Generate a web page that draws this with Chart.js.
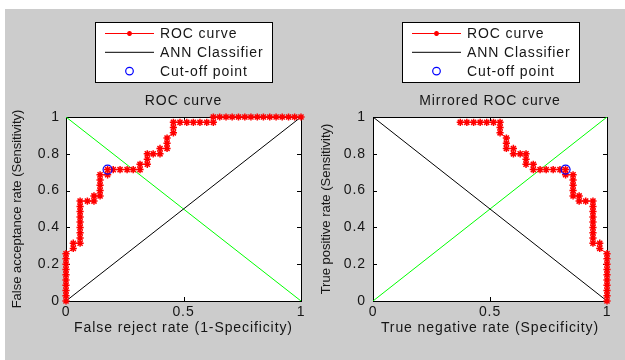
<!DOCTYPE html>
<html>
<head>
<meta charset="utf-8">
<script src="https://cdn.jsdelivr.net/npm/chart.js@4.4.1/dist/chart.umd.min.js"></script>
<style>
	html, body { margin: 0; padding: 0; background: #fff; }
	#fig { position: absolute; left: 5px; top: 9px; width: 620px; height: 351px; background: #cccccc; }
	canvas { position: absolute; top: 0; }
	#rocChart { left: 0; }
	#mirChart { left: 312px; }
</style>
</head>
<body>
<div id="fig"></div>
<canvas id="rocChart" width="312" height="360"></canvas>
<canvas id="mirChart" width="313" height="360"></canvas>
<script>
// left panel: ROC curve (false reject rate vs sensitivity)
const rocFpr = [0,0,0,0,0,0,0,0,0,0, 0.031,0.031,0.06, 0.06,0.06,0.06,0.06,0.06,0.06,0.06,0.06,
	0.091,0.119,0.119,0.145, 0.145,0.145,0.145,0.145, 0.177,0.177, 0.201,0.23,0.26,0.286,0.315,
	0.315,0.346,0.346,0.346,0.371,0.4,0.4,0.43,0.43,0.43,0.457,0.457,0.457,
	0.485,0.514,0.542,0.57,0.599,0.627, 0.627,
	0.654,0.681,0.707,0.734,0.761,0.787,0.814,0.84,0.867,0.894,0.92,0.947,0.973,1];
const rocTpr = [0,0.029,0.057,0.086,0.114,0.143,0.171,0.2,0.229,0.257, 0.286,0.314,0.314,
	0.343,0.371,0.4,0.429,0.457,0.486,0.514,0.543, 0.543,0.543,0.571,0.571, 0.6,0.629,0.657,0.686,
	0.686,0.714, 0.714,0.714,0.714,0.714,0.714,
	0.743,0.743,0.771,0.8,0.8,0.8,0.829,0.829,0.857,0.886,0.914,0.943,0.971,
	0.971,0.971,0.971,0.971,0.971,0.971, 1,
	1,1,1,1,1,1,1,1,1,1,1,1,1,1];

// right panel: mirrored ROC curve (specificity vs sensitivity)
const mirSpec = [1,1,1,1,1,1,1,1,1,1, 0.969,0.969,0.94, 0.94,0.94,0.94,0.94,0.94,0.94,0.94,0.94,
	0.909,0.881,0.881,0.855, 0.855,0.855,0.855,0.855, 0.823,0.823, 0.799,0.77,0.74,0.714,0.685,
	0.685,0.654,0.654,0.654,0.629,0.6,0.6,0.57,0.57,0.57,0.543,0.543,0.543,
	0.515,0.486,0.458,0.43,0.401,0.373];
const mirTpr = [0,0.029,0.057,0.086,0.114,0.143,0.171,0.2,0.229,0.257, 0.286,0.314,0.314,
	0.343,0.371,0.4,0.429,0.457,0.486,0.514,0.543, 0.543,0.543,0.571,0.571, 0.6,0.629,0.657,0.686,
	0.686,0.714, 0.714,0.714,0.714,0.714,0.714,
	0.743,0.743,0.771,0.8,0.8,0.8,0.829,0.829,0.857,0.886,0.914,0.943,0.971,
	0.971,0.971,0.971,0.971,0.971,0.971];

const rocCutX = [0.177], rocCutY = [0.714];
const mirCutX = [0.823], mirCutY = [0.714];

const rocAnnX = [0, 1], rocAnnY = [0, 1];
const rocGuideX = [0, 1], rocGuideY = [1, 0];
const mirAnnX = [0, 1], mirAnnY = [1, 0];
const mirGuideX = [0, 1], mirGuideY = [0, 1];

const xTicks = [0, 0.5, 1];
const xTickLabels = ['0', '0.5', '1'];
const yTicks = [0, 0.2, 0.4, 0.6, 0.8, 1];
const yTickLabels = ['0', '0.2', '0.4', '0.6', '0.8', '1'];

const FONT = "'Liberation Sans', Arial, sans-serif";
const TXT = '#161616';
const SPACING = '0.9px';
const TICK = 4;

function toPts(xs, ys){
	return xs.map((x, i) => ({x: x, y: ys[i]}));
}

function drawMarker(ctx, style, r, cx, cy){
	ctx.beginPath();
	if(style === 'circle'){
		ctx.arc(cx, cy, r, 0, Math.PI * 2);
	} else {
		for(let k = 0; k < 4; k++){
			const t = k * Math.PI / 4;
			ctx.moveTo(cx - r * Math.cos(t), cy - r * Math.sin(t));
			ctx.lineTo(cx + r * Math.cos(t), cy + r * Math.sin(t));
		}
	}
	ctx.stroke();
}

// matlab look: white box with inward ticks, boxed legend, rotated y label
const matlabAxes = {
	id: 'matlabAxes',
	beforeUpdate(chart){ chart.ctx.letterSpacing = SPACING; },
	beforeDraw(chart){ chart.ctx.letterSpacing = SPACING; },
	beforeDatasetsDraw(chart){
		const {ctx, chartArea: a, scales} = chart;
		ctx.save();
		ctx.fillStyle = '#fff';
		ctx.fillRect(a.left, a.top, a.width, a.height);
		ctx.strokeStyle = '#000';
		ctx.lineWidth = 1;
		ctx.strokeRect(a.left + 0.5, a.top + 0.5, a.width, a.height);
		ctx.beginPath();
		xTicks.forEach(v => {
			const px = Math.round(scales.x.getPixelForValue(v)) + 0.5;
			ctx.moveTo(px, a.bottom); ctx.lineTo(px, a.bottom - TICK);
			ctx.moveTo(px, a.top); ctx.lineTo(px, a.top + TICK);
		});
		yTicks.forEach(v => {
			const py = Math.round(scales.y.getPixelForValue(v)) + 0.5;
			ctx.moveTo(a.left, py); ctx.lineTo(a.left + TICK, py);
			ctx.moveTo(a.right, py); ctx.lineTo(a.right - TICK, py);
		});
		ctx.stroke();
		ctx.restore();
	},
	afterDraw(chart, args, opts){
		const {ctx, chartArea: a} = chart;
		const w = 177, h = 60, top = 22;
		const left = Math.round((a.left + a.right) / 2 - w / 2);

		ctx.save();
		ctx.letterSpacing = SPACING;
		ctx.fillStyle = '#fff';
		ctx.fillRect(left, top, w, h);
		ctx.strokeStyle = '#000';
		ctx.lineWidth = 1;
		ctx.strokeRect(left + 0.5, top + 0.5, w, h);

		let row = 0;
		chart.data.datasets.forEach(ds => {
			if(!ds.label) return;
			const cy = top + 11.5 + row * 18.8;
			if(ds.showLine){
				ctx.strokeStyle = ds.borderColor;
				ctx.lineWidth = ds.borderWidth;
				ctx.beginPath();
				ctx.moveTo(left + 10, cy);
				ctx.lineTo(left + 59, cy);
				ctx.stroke();
			}
			if(ds.pointRadius > 0){
				ctx.strokeStyle = ds.pointBorderColor;
				ctx.lineWidth = ds.pointBorderWidth;
				drawMarker(ctx, ds.pointStyle, ds.pointStyle === 'circle' ? 3.8 : 2.5, left + 34.5, cy);
			}
			ctx.fillStyle = TXT;
			ctx.font = '14px ' + FONT;
			ctx.textAlign = 'left';
			ctx.textBaseline = 'middle';
			ctx.fillText(ds.label, left + 65, cy + 1);
			row++;
		});

		// y label, rotated text is not widened
		ctx.letterSpacing = '0px';
		ctx.translate(opts.yTitleX, (a.top + a.bottom) / 2);
		ctx.rotate(-Math.PI / 2);
		ctx.fillStyle = TXT;
		ctx.font = '13px ' + FONT;
		ctx.textAlign = 'center';
		ctx.textBaseline = 'middle';
		ctx.fillText(opts.yTitle, 0, 0);
		ctx.restore();
	}
};

function makeChart(id, o){
	const font14 = {family: FONT, size: 14, weight: 'normal'};
	return new Chart(document.getElementById(id), {
		type: 'scatter',
		data: {
			datasets: [
				{ label: 'ROC curve', data: toPts(o.curveX, o.curveY), showLine: true, borderColor: '#ff0000', borderWidth: 1,
					pointStyle: 'star', pointRadius: 3.6, pointBorderWidth: 1.5, pointBorderColor: '#ff0000', pointBackgroundColor: '#ff0000', order: 1, clip: false },
				{ label: 'ANN Classifier', data: toPts(o.annX, o.annY), showLine: true, borderColor: '#000000', borderWidth: 1, pointRadius: 0, order: 2 },
				{ label: 'Cut-off point', data: toPts(o.cutX, o.cutY), showLine: false, pointStyle: 'circle', pointRadius: 4.5,
					pointBorderColor: '#0000ff', pointBackgroundColor: 'rgba(0,0,0,0)', pointBorderWidth: 1.2, order: 0, clip: false },
				{ data: toPts(o.guideX, o.guideY), showLine: true, borderColor: '#00ff00', borderWidth: 1, pointRadius: 0, order: 3 }
			]
		},
		options: {
			responsive: false,
			animation: false,
			devicePixelRatio: 1,
			layout: { padding: { left: 0, right: o.padRight, top: 0, bottom: 23 } },
			plugins: {
				legend: { display: false },
				tooltip: { enabled: false },
				title: { display: true, text: o.title, fullSize: false, color: TXT, font: font14, padding: { top: 92.6, bottom: 7.6 } },
				matlabAxes: { yTitle: o.yTitle, yTitleX: o.yTitleX }
			},
			scales: {
				x: {
					type: 'linear', min: 0, max: 1,
					grid: { display: false, drawTicks: false },
					border: { display: false },
					afterBuildTicks: s => { s.ticks = xTicks.map(v => ({value: v})); },
					afterFit: s => { s.height = 36; },
					ticks: { padding: 3, maxRotation: 0, autoSkip: false, color: TXT, font: font14, callback: (v, i) => xTickLabels[i] },
					title: { display: true, text: o.xTitle, color: TXT, font: font14, padding: 0 }
				},
				y: {
					type: 'linear', min: 0, max: 1,
					grid: { display: false, drawTicks: false },
					border: { display: false },
					afterBuildTicks: s => { s.ticks = yTicks.map(v => ({value: v})); },
					afterFit: s => { s.width = o.yAxisW; },
					ticks: { padding: o.yPad, autoSkip: false, color: TXT, font: font14, callback: (v, i) => yTickLabels[i] },
					title: { display: false }
				}
			}
		},
		plugins: [matlabAxes]
	});
}

makeChart('rocChart', {
	title: 'ROC curve',
	xTitle: 'False reject rate (1-Specificity)',
	yTitle: 'False acceptance rate (Sensitivity)',
	curveX: rocFpr, curveY: rocTpr,
	annX: rocAnnX, annY: rocAnnY,
	guideX: rocGuideX, guideY: rocGuideY,
	cutX: rocCutX, cutY: rocCutY,
	padRight: 11, yAxisW: 66, yPad: 6, yTitleX: 17.5
});

makeChart('mirChart', {
	title: 'Mirrored ROC curve',
	xTitle: 'True negative rate (Specificity)',
	yTitle: 'True positive rate (Sensitivity)',
	curveX: mirSpec, curveY: mirTpr,
	annX: mirAnnX, annY: mirAnnY,
	guideX: mirGuideX, guideY: mirGuideY,
	cutX: mirCutX, cutY: mirCutY,
	padRight: 18, yAxisW: 61, yPad: 7, yTitleX: 14
});
</script>
</body>
</html>
